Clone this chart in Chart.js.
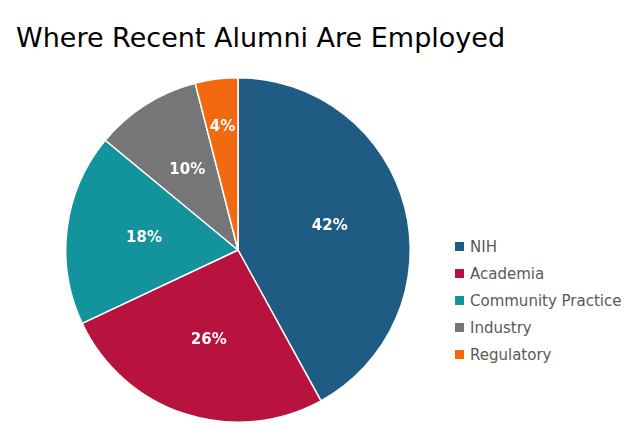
<!DOCTYPE html>
<html><head><meta charset="utf-8">
<script src="https://cdn.jsdelivr.net/npm/chart.js@4"></script>
<style>
body{margin:0;width:637px;height:445px;background:#fff;font-family:"DejaVu Sans",Verdana,sans-serif;position:relative;overflow:hidden}
#title{position:absolute;left:16px;top:22px;font-size:27px;color:#000;white-space:nowrap}
#wrap{position:absolute;left:61px;top:73px;width:354px;height:354px}
#legend{position:absolute;left:455px;top:233px;font-size:15px;color:#595959}
.li{height:27px;display:flex;align-items:center}
.sw{width:9px;height:9px;margin-right:6px}
</style></head><body>
<div id="title">Where Recent Alumni Are Employed</div>
<div id="wrap"><canvas id="c" width="354" height="354"></canvas></div>
<div id="legend"></div>
<script>
const categories=["NIH","Academia","Community Practice","Industry","Regulatory"];
const values=[42,26,18,10,4];
const colors=["#1f5b82","#b8123e","#13939b","#767676","#f2690f"];
const leg=document.getElementById('legend');
categories.forEach((c,i)=>{const d=document.createElement('div');d.className='li';d.innerHTML='<span class="sw" style="background:'+colors[i]+'"></span>'+c;leg.appendChild(d);});
const labels={id:'lbl',afterDatasetsDraw(ch){const ctx=ch.ctx;ctx.save();ctx.fillStyle='#fff';ctx.font='bold 15px "DejaVu Sans",Verdana,sans-serif';ctx.textAlign='center';ctx.textBaseline='middle';
ch.getDatasetMeta(0).data.forEach((a,i)=>{const m=(a.startAngle+a.endAngle)/2;const r=a.outerRadius*(i==4?0.72:0.55);ctx.fillText(values[i]+'%',a.x+Math.cos(m)*r,a.y+Math.sin(m)*r);});ctx.restore();}};
new Chart(document.getElementById('c'),{type:'pie',data:{labels:categories,datasets:[{data:values,backgroundColor:colors,borderColor:'#fff',borderWidth:1.5}]},
options:{responsive:false,animation:false,layout:{padding:4},plugins:{legend:{display:false},tooltip:{enabled:false}}},plugins:[labels]});
</script></body></html>
